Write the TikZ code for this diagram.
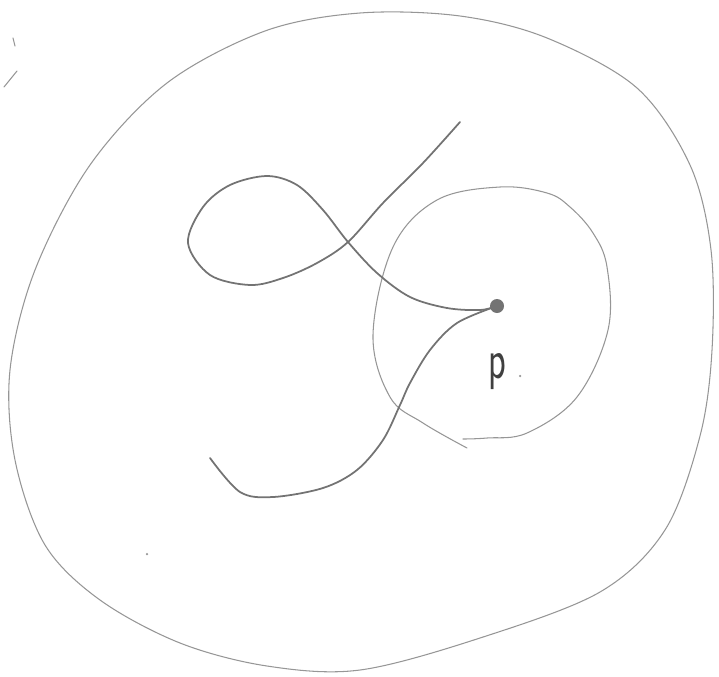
\documentclass[tikz,border=0pt]{standalone}
\usetikzlibrary{positioning}
\definecolor{pencil}{RGB}{115,115,115}
\definecolor{pencillight}{RGB}{150,150,150}

\begin{document}
\begin{tikzpicture}[x=0.02cm,y=-0.02cm,
  stroke/.style={draw=pencil,line width=1pt,line cap=round,line join=round},
  faint/.style={draw=pencillight,line width=0.6pt,line cap=round,line join=round},
  pt/.style={circle,fill=pencil,inner sep=0pt,minimum size=2.8mm},
  lbl/.style={font=\fontsize{26}{26}\selectfont\sffamily,text=black!75,inner sep=0pt},
  speck/.style={circle,fill=pencillight,inner sep=0pt,minimum size=0.5mm}
]
\useasboundingbox (0,0) rectangle (719,676);
% the point and its label
\node[pt] (p) at (497,306) {};
\node[lbl,anchor=north] (plabel) at (497,353) {\scalebox{0.8}[1.25]{p}};
\node[speck] (pdot) at (520,376) {};
% outer region
\draw[faint] plot[smooth cycle,tension=0.55] coordinates {
  (360,13) (460,16) (547,38) (637,88) (690,165) (711,250) (712,350)
  (700,436) (665,530) (600,592) (480,638) (360,670) (267,666) (180,643)
  (100,600) (45,545) (15,460) (10,370) (35,270) (90,165) (167,83) (265,31)};
% neighbourhood of p
\draw[faint] plot[smooth,tension=0.6] coordinates {
  (463,439) (487,438) (527,433) (577,397) (608,330) (607,267) (593,233)
  (570,207) (547,193) (500,187) (437,200) (393,247) (373,335) (390,397)
  (423,423) (467,448)};
% path with a loop, ending at p
\coordinate (loopstart) at (460,122);
\draw[stroke] plot[smooth,tension=0.55] coordinates {
  (loopstart) (423,163) (383,203) (348,242) (317,263) (283,278) (250,285)
  (210,275) (188,243) (203,207) (230,185) (267,176) (297,185) (323,210)
  (348,242) (377,273) (410,297) (447,308) (480,310) (p.center)};
% path leaving p
\coordinate (tailend) at (210,458);
\draw[stroke] plot[smooth,tension=0.55] coordinates {
  (p.center) (457,323) (430,350) (410,383) (400,405) (383,440) (357,470)
  (323,488) (273,497) (240,492) (tailend)};
% stray marks
\coordinate (m1a) at (13,38); \coordinate (m1b) at (15,46);
\coordinate (m2a) at (4,87); \coordinate (m2b) at (17,71);
\draw[faint] (m1a) -- (m1b);
\draw[faint] (m2a) -- (m2b);
\node[speck] (stray) at (147,554) {};
\end{tikzpicture}
\end{document}
